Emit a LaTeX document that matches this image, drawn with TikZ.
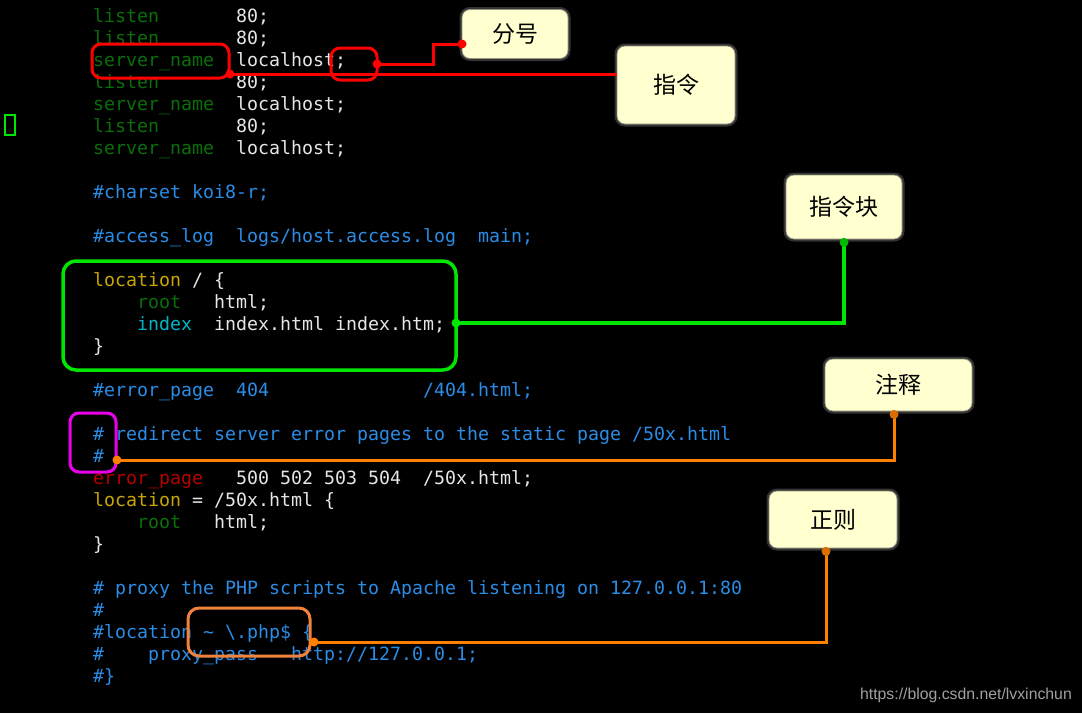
\documentclass[tikz,border=0pt]{standalone}
\usepackage{fontspec}
\setmainfont{Liberation Sans}
\newfontfamily\codefont{DejaVu Sans Mono}
\newfontfamily\cjk{Noto Sans CJK SC}
\definecolor{codewhite}{RGB}{230,230,230}
\definecolor{kwgreen}{RGB}{10,110,10}
\definecolor{cmtblue}{RGB}{43,140,230}
\definecolor{locyellow}{RGB}{200,165,0}
\definecolor{idxcyan}{RGB}{0,180,200}
\definecolor{errred}{RGB}{180,0,0}
\definecolor{noteyellow}{RGB}{255,255,208}
\definecolor{notegray}{RGB}{150,150,130}
\definecolor{hlred}{RGB}{255,0,0}
\definecolor{hlgreen}{RGB}{0,230,0}
\definecolor{hlmag}{RGB}{235,0,235}
\definecolor{hlorange}{RGB}{240,130,60}
\definecolor{lnorange}{RGB}{255,128,0}
\definecolor{wmgray}{RGB}{160,160,160}
\newdimen\cwid \cwid=11pt
\newcommand\sk[1]{\hspace*{#1\cwid}}
\newcommand\cG[1]{\textcolor{kwgreen}{#1}}
\newcommand\cB[1]{\textcolor{cmtblue}{#1}}
\newcommand\cY[1]{\textcolor{locyellow}{#1}}
\newcommand\cC[1]{\textcolor{idxcyan}{#1}}
\newcommand\cR[1]{\textcolor{errred}{#1}}
\tikzset{
  code/.style={anchor=base west, inner sep=0pt, text=codewhite, font=\codefont\fontsize{18.27}{22}\selectfont},
  note/.style={rectangle, rounded corners=8pt, fill=noteyellow, draw=notegray, line width=0.8pt,
    preaction={draw=white, draw opacity=0.2, line width=5pt},
    font=\cjk\fontsize{23}{23}\selectfont, text=black, inner sep=0pt},
  hl/.style={rectangle, rounded corners=9pt, line width=3pt, inner sep=0pt, fill=none},
  conn/.style={line width=3pt},
  dotm/.style={circle, fill, inner sep=0pt, minimum size=9pt}
}
\begin{document}
\begin{tikzpicture}[x=1pt,y=-1pt]
\useasboundingbox (0,0) rectangle (1082,713);
\fill[black] (0,0) rectangle (1082,713);
% cursor
\draw[hlgreen, line width=1.3pt] (5,115) rectangle (15,135);
% code lines
\node[code] (l1) at (93,22) {\cG{listen}\sk{7}80;};
\node[code] (l2) at (93,44) {\cG{listen}\sk{7}80;};
\node[code] (l3) at (93,66) {\cG{server\_name}\sk{2}localhost;};
\node[code] (l4) at (93,88) {\cG{listen}\sk{7}80;};
\node[code] (l5) at (93,110) {\cG{server\_name}\sk{2}localhost;};
\node[code] (l6) at (93,132) {\cG{listen}\sk{7}80;};
\node[code] (l7) at (93,154) {\cG{server\_name}\sk{2}localhost;};
\node[code] (l8) at (93,198) {\cB{\#charset koi8-r;}};
\node[code] (l9) at (93,242) {\cB{\#access\_log\sk{2}logs/host.access.log\sk{2}main;}};
\node[code] (l10) at (93,286) {\cY{location} / \{};
\node[code] (l11) at (137,308) {\cG{root}\sk{3}html;};
\node[code] (l12) at (137,330) {\cC{index}\sk{2}index.html index.htm;};
\node[code] (l13) at (93,352) {\}};
\node[code] (l14) at (93,396) {\cB{\#error\_page\sk{2}404\sk{14}/404.html;}};
\node[code] (l15) at (93,440) {\cB{\# redirect server error pages to the static page /50x.html}};
\node[code] (l16) at (93,462) {\cB{\#}};
\node[code] (l17) at (93,484) {\cR{error\_page}\sk{3}500 502 503 504\sk{2}/50x.html;};
\node[code] (l18) at (93,506) {\cY{location} = /50x.html \{};
\node[code] (l19) at (137,528) {\cG{root}\sk{3}html;};
\node[code] (l20) at (93,550) {\}};
\node[code] (l21) at (93,594) {\cB{\# proxy the PHP scripts to Apache listening on 127.0.0.1:80}};
\node[code] (l22) at (93,616) {\cB{\#}};
\node[code] (l23) at (93,638) {\cB{\#location \textasciitilde{} \textbackslash.php\$ \{}};
\node[code] (l24) at (93,660) {\cB{\#\sk{4}proxy\_pass\sk{3}http://127.0.0.1;}};
\node[code] (l25) at (93,682) {\cB{\#\}}};
% highlight boxes
\node[hl, draw=hlred, minimum width=137pt, minimum height=34pt] (snbox) at (160.5,61) {};
\node[hl, draw=hlred, minimum width=46pt, minimum height=32pt] (semibox) at (354,64) {};
\node[hl, draw=hlgreen, line width=3.5pt, rounded corners=13pt, minimum width=393pt, minimum height=109pt] (greenbox) at (259.5,315.5) {};
\node[hl, draw=hlmag, minimum width=46pt, minimum height=59pt] (magbox) at (93,442.5) {};
\node[hl, draw=hlorange, rounded corners=11pt, minimum width=122pt, minimum height=48pt] (orbox) at (249,632) {};
% notes
\node[note, minimum width=106pt, minimum height=49pt] (fh) at (515,34) {分号};
\node[note, minimum width=118pt, minimum height=78pt] (zl) at (676,85) {指令};
\node[note, minimum width=116pt, minimum height=64pt] (zlk) at (844,207) {指令块};
\node[note, minimum width=147pt, minimum height=52pt] (zs) at (898.5,385) {注释};
\node[note, minimum width=128pt, minimum height=57pt] (zr) at (833,519.5) {正则};
% connector anchors
\coordinate (r1) at (230,74);
\coordinate (r2) at (377,64);
\coordinate (r3) at (462,44);
\coordinate (g1) at (456,323);
\coordinate (g2) at (zlk.south);
\coordinate (m1) at (117,460);
\coordinate (m2) at ([xshift=-4.5pt]zs.south);
\coordinate (o1) at (314,642);
\coordinate (o2) at ([xshift=-7pt]zr.south);
% connectors
\draw[conn, hlred] (r1) -- (r1 -| zl.west);
\draw[conn, hlred] (r2) -- ++(56,0) |- (r3);
\node[dotm, fill=hlred] (d1) at (r1) {};
\node[dotm, fill=hlred] (d2) at (r2) {};
\node[dotm, fill=hlred] (d3) at (r3) {};
\draw[conn, hlgreen, line width=3.5pt] (g1) -| (g2);
\node[dotm, fill=hlgreen] (d4) at (g1) {};
\node[dotm, fill=hlgreen!80!black] (d5) at ([yshift=-3pt]g2) {};
\draw[conn, lnorange] (m1) -| (m2);
\node[dotm, fill=lnorange] (d6) at (m1) {};
\node[dotm, fill=lnorange!85!black] (d7) at ([yshift=-3pt]m2) {};
\draw[conn, lnorange] (o1) -| (o2);
\node[dotm, fill=lnorange] (d8) at (o1) {};
\node[dotm, fill=lnorange!85!black] (d9) at ([yshift=-3pt]o2) {};
% watermark
\node[anchor=base east, inner sep=0pt, text=wmgray, font=\fontsize{15.8}{15.8}\selectfont] (wm) at (1072,699) {https://blog.csdn.net/lvxinchun};
\end{tikzpicture}
\end{document}
